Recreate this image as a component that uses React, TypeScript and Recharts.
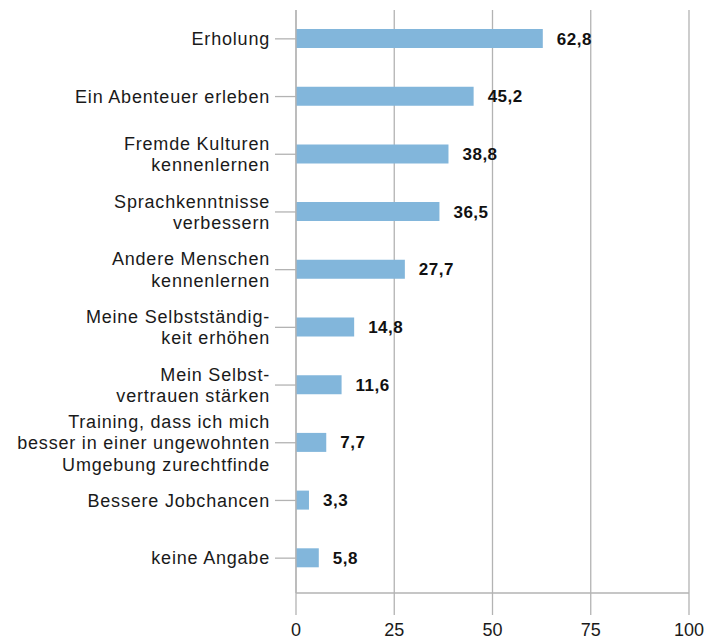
import { Bar, BarChart, CartesianGrid, LabelList, XAxis, YAxis } from 'recharts';

const categories = [
  'Erholung',
  'Ein Abenteuer erleben',
  'Fremde Kulturen\nkennenlernen',
  'Sprachkenntnisse\nverbessern',
  'Andere Menschen\nkennenlernen',
  'Meine Selbstständig-\nkeit erhöhen',
  'Mein Selbst-\nvertrauen stärken',
  'Training, dass ich mich\nbesser in einer ungewohnten\nUmgebung zurechtfinde',
  'Bessere Jobchancen',
  'keine Angabe',
];

const values = [62.8, 45.2, 38.8, 36.5, 27.7, 14.8, 11.6, 7.7, 3.3, 5.8];

const xTicks = [0, 25, 50, 75, 100];

const data = categories.map((name, i) => ({ name, value: values[i] }));

const FONT = '"Liberation Sans", Arial, sans-serif';
const GRID = '#b3b3b3';

const CategoryTick = (props: any) => {
  const { x, y, payload } = props;
  const lines: string[] = String(payload.value).split('\n');
  const lineHeight = 21.5;
  const startY = y - ((lines.length - 1) * lineHeight) / 2;
  return (
    <text
      x={x}
      y={startY}
      textAnchor="end"
      fontFamily={FONT}
      fontSize={18}
      letterSpacing={0.8}
      fill="#1a1a1a"
    >
      {lines.map((line, i) => (
        <tspan key={i} x={x} y={startY + i * lineHeight} dy="0.35em">
          {line}
        </tspan>
      ))}
    </text>
  );
};

export default function App() {
  return (
    <div style={{ position: 'absolute', left: 0, top: 0, background: '#fff' }}>
      <BarChart
        width={721}
        height={641}
        data={data}
        layout="vertical"
        margin={{ top: 10, right: 32, left: 0, bottom: 0 }}
        barCategoryGap={0}
      >
        <CartesianGrid horizontal={false} stroke={GRID} strokeWidth={1.3} />
        <XAxis
          type="number"
          domain={[0, 100]}
          ticks={xTicks}
          height={48}
          tickSize={22}
          tickMargin={8}
          axisLine={{ stroke: GRID, strokeWidth: 1.3 }}
          tickLine={{ stroke: GRID, strokeWidth: 1.3 }}
          tick={{ fill: '#1a1a1a', fontSize: 18, fontFamily: FONT }}
          interval={0}
        />
        <YAxis
          type="category"
          dataKey="name"
          width={296}
          tickSize={21}
          tickMargin={5}
          padding={{ top: 0, bottom: 6 }}
          axisLine={{ stroke: GRID, strokeWidth: 1.3 }}
          tickLine={{ stroke: GRID, strokeWidth: 1.3 }}
          tick={<CategoryTick />}
          interval={0}
        />
        <Bar dataKey="value" fill="#82b6db" barSize={19} isAnimationActive={false}>
          <LabelList
            dataKey="value"
            position="right"
            offset={14}
            formatter={(v: any) => String(v).replace('.', ',')}
            style={{
              fontFamily: FONT,
              fontSize: 17,
              fontWeight: 'bold',
              letterSpacing: 0.5,
              fill: '#111',
            }}
          />
        </Bar>
      </BarChart>
    </div>
  );
}
